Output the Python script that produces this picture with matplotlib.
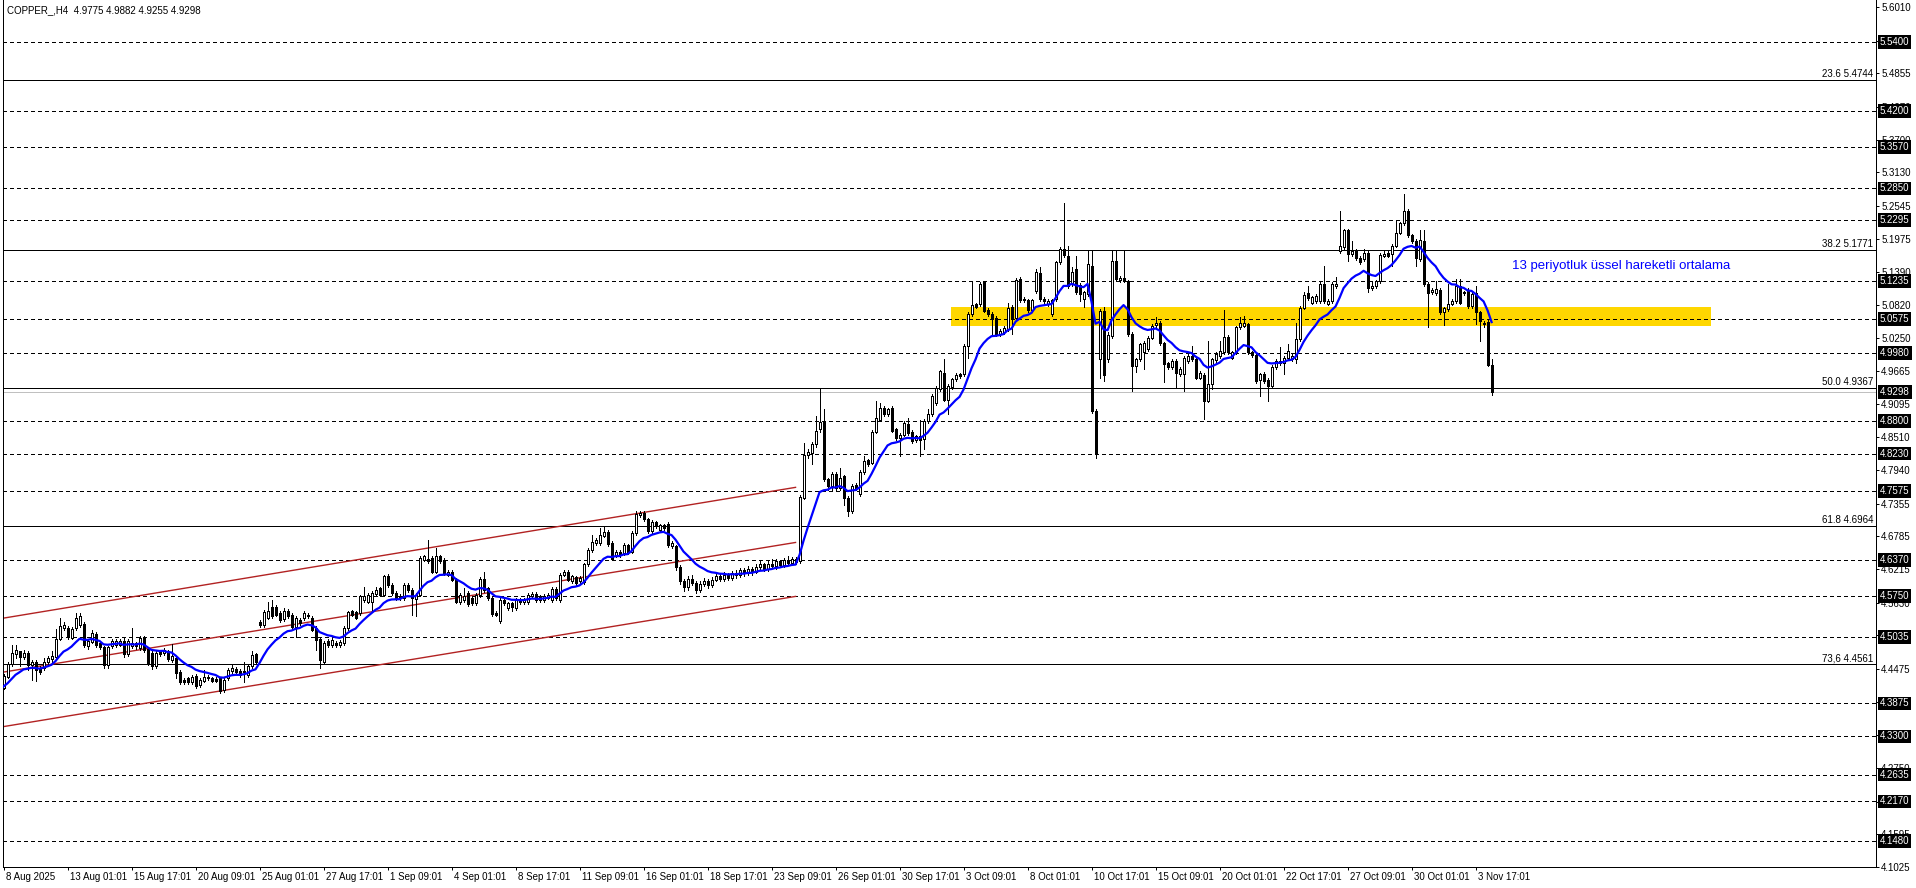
import numpy as np
import pandas as pd
import matplotlib
matplotlib.use("Agg")
import matplotlib.pyplot as plt
from matplotlib.transforms import blended_transform_factory, ScaledTranslation

plt.rcParams["font.family"] = ["Liberation Sans", "DejaVu Sans"]
plt.rcParams["lines.scale_dashes"] = False

# --------------------------------------------------------------------------------------
# Data (COPPER_, H4 candles)
# --------------------------------------------------------------------------------------
title = "COPPER_,H4  4.9775 4.9882 4.9255 4.9298"

opens = [
    4.415, 4.434, 4.456, 4.473, 4.478, 4.469, 4.475, 4.455, 4.460, 4.450,
    4.450, 4.459, 4.465, 4.469, 4.500, 4.519, 4.519, 4.502, 4.519, 4.525,
    4.526, 4.487, 4.495, 4.509, 4.493, 4.485, 4.455, 4.487, 4.489, 4.490,
    4.496, 4.473, 4.487, 4.492, 4.484, 4.502, 4.483, 4.475, 4.452, 4.478,
    4.475, 4.478, 4.463, 4.467, 4.443, 4.429, 4.431, 4.425, 4.436, 4.420,
    4.427, 4.433, 4.431, 4.430, 4.432, 4.411, 4.431, 4.444, 4.448, 4.444,
    4.442, 4.437, 4.452, 4.473, 4.530, 4.524, 4.537, 4.556, 4.556, 4.545,
    4.535, 4.549, 4.542, 4.521, 4.533, 4.536, 4.542, 4.536, 4.519, 4.500,
    4.460, 4.496, 4.489, 4.493, 4.489, 4.492, 4.519, 4.548, 4.546, 4.545,
    4.568, 4.565, 4.565, 4.578, 4.588, 4.577, 4.610, 4.594, 4.580, 4.575,
    4.571, 4.594, 4.585, 4.570, 4.577, 4.638, 4.640, 4.641, 4.617, 4.644,
    4.638, 4.612, 4.617, 4.603, 4.565, 4.568, 4.580, 4.571, 4.562, 4.576,
    4.604, 4.588, 4.571, 4.545, 4.531, 4.568, 4.553, 4.562, 4.553, 4.568,
    4.564, 4.564, 4.575, 4.578, 4.574, 4.568, 4.572, 4.568, 4.587, 4.568,
    4.612, 4.617, 4.601, 4.607, 4.600, 4.599, 4.630, 4.655, 4.667, 4.667,
    4.680, 4.686, 4.667, 4.645, 4.652, 4.649, 4.663, 4.652, 4.684, 4.716,
    4.719, 4.708, 4.688, 4.703, 4.690, 4.698, 4.700, 4.661, 4.661, 4.625,
    4.600, 4.590, 4.605, 4.598, 4.585, 4.596, 4.601, 4.593, 4.603, 4.610,
    4.604, 4.612, 4.606, 4.615, 4.611, 4.620, 4.614, 4.622, 4.617, 4.626,
    4.630, 4.622, 4.631, 4.627, 4.635, 4.629, 4.637, 4.632, 4.639, 4.636,
    4.746, 4.820, 4.824, 4.839, 4.865, 4.879, 4.778, 4.766, 4.787, 4.763,
    4.783, 4.746, 4.722, 4.768, 4.752, 4.791, 4.811, 4.807, 4.861, 4.882,
    4.903, 4.891, 4.902, 4.865, 4.850, 4.856, 4.874, 4.861, 4.846, 4.853,
    4.849, 4.880, 4.892, 4.911, 4.935, 4.964, 4.917, 4.939, 4.952, 4.961,
    4.961, 5.011, 5.066, 5.083, 5.083, 5.121, 5.073, 5.066, 5.059, 5.031,
    5.035, 5.040, 5.079, 5.059, 5.127, 5.090, 5.090, 5.073, 5.106, 5.137,
    5.092, 5.083, 5.066, 5.092, 5.156, 5.179, 5.168, 5.118, 5.144, 5.117,
    5.092, 5.101, 5.150, 4.897, 4.987, 5.072, 4.988, 5.028, 5.159, 5.125,
    5.129, 5.123, 5.031, 4.976, 4.987, 4.999, 5.005, 5.025, 5.047, 5.051,
    5.015, 4.980, 4.973, 4.984, 4.961, 4.961, 4.984, 4.993, 4.987, 4.955,
    4.960, 4.915, 4.944, 4.986, 4.993, 4.999, 5.026, 4.990, 5.000, 5.043,
    5.046, 5.048, 4.999, 4.995, 4.951, 4.962, 4.951, 4.941, 4.974, 4.981,
    4.981, 4.990, 4.987, 4.987, 5.022, 5.077, 5.102, 5.086, 5.089, 5.089,
    5.118, 5.084, 5.089, 5.115, 5.176, 5.183, 5.212, 5.171, 5.176, 5.164,
    5.162, 5.173, 5.111, 5.115, 5.123, 5.168, 5.172, 5.171, 5.185, 5.208,
    5.224, 5.246, 5.203, 5.193, 5.162, 5.194, 5.118, 5.104, 5.102, 5.108,
    5.069, 5.074, 5.084, 5.088, 5.115, 5.102, 5.108, 5.080, 5.102, 5.069,
    5.048, 5.053, 4.9775,
]

highs = [
    4.438, 4.460, 4.489, 4.489, 4.479, 4.480, 4.478, 4.463, 4.463, 4.452,
    4.466, 4.470, 4.478, 4.517, 4.536, 4.530, 4.522, 4.520, 4.545, 4.545,
    4.530, 4.500, 4.515, 4.512, 4.496, 4.488, 4.487, 4.500, 4.499, 4.500,
    4.501, 4.499, 4.519, 4.495, 4.505, 4.505, 4.486, 4.478, 4.478, 4.481,
    4.484, 4.481, 4.491, 4.470, 4.446, 4.431, 4.434, 4.437, 4.439, 4.432,
    4.446, 4.437, 4.434, 4.433, 4.434, 4.431, 4.450, 4.454, 4.451, 4.447,
    4.460, 4.455, 4.478, 4.476, 4.533, 4.551, 4.565, 4.568, 4.559, 4.548,
    4.553, 4.552, 4.545, 4.539, 4.536, 4.548, 4.545, 4.539, 4.522, 4.503,
    4.496, 4.499, 4.501, 4.496, 4.498, 4.522, 4.549, 4.551, 4.549, 4.577,
    4.591, 4.580, 4.583, 4.591, 4.591, 4.612, 4.613, 4.597, 4.583, 4.578,
    4.597, 4.597, 4.588, 4.580, 4.644, 4.647, 4.673, 4.644, 4.659, 4.647,
    4.641, 4.620, 4.620, 4.606, 4.580, 4.588, 4.583, 4.574, 4.580, 4.607,
    4.617, 4.591, 4.574, 4.548, 4.571, 4.571, 4.565, 4.565, 4.571, 4.571,
    4.571, 4.580, 4.582, 4.581, 4.577, 4.578, 4.580, 4.590, 4.590, 4.615,
    4.620, 4.620, 4.612, 4.610, 4.609, 4.633, 4.658, 4.681, 4.675, 4.693,
    4.696, 4.689, 4.670, 4.655, 4.655, 4.667, 4.666, 4.688, 4.723, 4.722,
    4.722, 4.711, 4.707, 4.706, 4.701, 4.701, 4.703, 4.670, 4.664, 4.628,
    4.605, 4.610, 4.612, 4.601, 4.600, 4.606, 4.604, 4.607, 4.614, 4.613,
    4.616, 4.615, 4.619, 4.620, 4.624, 4.623, 4.627, 4.626, 4.630, 4.636,
    4.633, 4.636, 4.640, 4.640, 4.638, 4.641, 4.644, 4.643, 4.642, 4.750,
    4.842, 4.830, 4.843, 4.888, 4.938, 4.900, 4.781, 4.791, 4.790, 4.798,
    4.786, 4.749, 4.769, 4.771, 4.794, 4.818, 4.814, 4.864, 4.914, 4.911,
    4.906, 4.903, 4.905, 4.868, 4.859, 4.880, 4.885, 4.864, 4.856, 4.882,
    4.883, 4.900, 4.926, 4.940, 4.969, 4.987, 4.944, 4.955, 4.963, 4.964,
    5.014, 5.069, 5.121, 5.086, 5.122, 5.124, 5.076, 5.069, 5.062, 5.040,
    5.045, 5.086, 5.082, 5.128, 5.130, 5.095, 5.093, 5.093, 5.144, 5.148,
    5.095, 5.092, 5.093, 5.159, 5.182, 5.259, 5.185, 5.148, 5.168, 5.120,
    5.107, 5.176, 5.175, 4.900, 5.075, 5.078, 5.034, 5.176, 5.178, 5.133,
    5.176, 5.126, 5.034, 4.990, 5.016, 5.019, 5.028, 5.048, 5.060, 5.054,
    5.018, 4.983, 4.987, 4.987, 4.973, 4.993, 4.996, 5.011, 4.990, 4.967,
    4.963, 5.019, 4.990, 5.000, 5.019, 5.073, 5.029, 5.002, 5.046, 5.060,
    5.063, 5.051, 5.002, 4.998, 4.964, 4.965, 4.954, 4.977, 4.987, 5.008,
    4.993, 5.013, 4.996, 5.051, 5.080, 5.105, 5.115, 5.098, 5.101, 5.124,
    5.150, 5.092, 5.121, 5.130, 5.246, 5.215, 5.215, 5.194, 5.179, 5.167,
    5.179, 5.176, 5.124, 5.126, 5.172, 5.176, 5.175, 5.188, 5.230, 5.227,
    5.276, 5.249, 5.206, 5.196, 5.212, 5.213, 5.121, 5.111, 5.124, 5.111,
    5.079, 5.118, 5.092, 5.127, 5.127, 5.107, 5.111, 5.104, 5.115, 5.072,
    5.054, 5.056, 4.9882,
]

lows = [
    4.413, 4.431, 4.453, 4.466, 4.452, 4.465, 4.446, 4.428, 4.427, 4.438,
    4.446, 4.456, 4.460, 4.466, 4.498, 4.515, 4.500, 4.499, 4.516, 4.521,
    4.486, 4.483, 4.492, 4.486, 4.482, 4.449, 4.449, 4.484, 4.486, 4.487,
    4.469, 4.470, 4.484, 4.483, 4.481, 4.477, 4.454, 4.448, 4.449, 4.470,
    4.472, 4.462, 4.460, 4.431, 4.422, 4.421, 4.421, 4.422, 4.414, 4.417,
    4.424, 4.428, 4.425, 4.425, 4.405, 4.408, 4.428, 4.441, 4.439, 4.434,
    4.425, 4.434, 4.449, 4.457, 4.521, 4.521, 4.534, 4.536, 4.539, 4.530,
    4.532, 4.536, 4.518, 4.504, 4.524, 4.533, 4.537, 4.513, 4.481, 4.449,
    4.457, 4.486, 4.486, 4.486, 4.486, 4.489, 4.516, 4.539, 4.534, 4.542,
    4.565, 4.562, 4.550, 4.575, 4.574, 4.574, 4.591, 4.577, 4.567, 4.568,
    4.568, 4.582, 4.542, 4.539, 4.574, 4.635, 4.633, 4.614, 4.614, 4.632,
    4.611, 4.609, 4.600, 4.562, 4.560, 4.565, 4.557, 4.559, 4.559, 4.573,
    4.582, 4.568, 4.540, 4.539, 4.528, 4.559, 4.550, 4.549, 4.550, 4.561,
    4.561, 4.561, 4.572, 4.565, 4.565, 4.565, 4.569, 4.565, 4.568, 4.565,
    4.609, 4.600, 4.598, 4.594, 4.597, 4.596, 4.627, 4.652, 4.664, 4.664,
    4.677, 4.662, 4.637, 4.642, 4.643, 4.646, 4.648, 4.649, 4.681, 4.713,
    4.705, 4.685, 4.685, 4.693, 4.687, 4.690, 4.660, 4.658, 4.620, 4.595,
    4.584, 4.586, 4.594, 4.580, 4.582, 4.592, 4.589, 4.590, 4.600, 4.600,
    4.601, 4.603, 4.603, 4.606, 4.608, 4.610, 4.611, 4.612, 4.614, 4.620,
    4.618, 4.619, 4.623, 4.622, 4.625, 4.626, 4.628, 4.628, 4.630, 4.632,
    4.743, 4.815, 4.804, 4.835, 4.860, 4.775, 4.760, 4.760, 4.758, 4.760,
    4.734, 4.714, 4.719, 4.760, 4.749, 4.788, 4.802, 4.804, 4.858, 4.879,
    4.888, 4.888, 4.860, 4.847, 4.818, 4.853, 4.856, 4.842, 4.843, 4.818,
    4.830, 4.877, 4.889, 4.908, 4.932, 4.914, 4.891, 4.936, 4.949, 4.955,
    4.958, 4.990, 5.063, 5.076, 5.080, 5.069, 5.063, 5.028, 5.028, 5.028,
    5.032, 5.037, 5.031, 5.056, 5.087, 5.087, 5.070, 5.070, 5.103, 5.089,
    5.085, 5.080, 5.063, 5.089, 5.153, 5.166, 5.112, 5.115, 5.101, 5.089,
    5.079, 5.098, 4.894, 4.815, 4.955, 4.950, 4.982, 5.025, 5.124, 5.121,
    5.121, 5.028, 4.932, 4.965, 4.984, 4.970, 5.002, 5.022, 5.044, 5.012,
    4.947, 4.970, 4.970, 4.938, 4.958, 4.932, 4.981, 4.984, 4.952, 4.952,
    4.883, 4.912, 4.935, 4.983, 4.990, 4.996, 4.996, 4.987, 4.997, 5.040,
    5.043, 4.996, 4.992, 4.946, 4.923, 4.946, 4.915, 4.938, 4.971, 4.978,
    4.961, 4.987, 4.984, 4.981, 5.019, 5.074, 5.091, 5.083, 5.086, 5.086,
    5.086, 5.081, 5.086, 5.112, 5.173, 5.180, 5.159, 5.168, 5.161, 5.153,
    5.159, 5.104, 5.108, 5.112, 5.120, 5.165, 5.165, 5.150, 5.182, 5.205,
    5.221, 5.200, 5.190, 5.150, 5.159, 5.115, 5.043, 5.101, 5.099, 5.066,
    5.047, 5.071, 5.081, 5.085, 5.083, 5.099, 5.077, 5.077, 5.048, 5.019,
    5.043, 4.975, 4.9255,
]

closes = [
    4.435, 4.456, 4.475, 4.481, 4.469, 4.476, 4.455, 4.460, 4.446, 4.442,
    4.460, 4.466, 4.471, 4.500, 4.523, 4.524, 4.504, 4.517, 4.536, 4.539,
    4.489, 4.496, 4.510, 4.489, 4.485, 4.455, 4.485, 4.496, 4.496, 4.497,
    4.473, 4.496, 4.492, 4.487, 4.502, 4.481, 4.457, 4.452, 4.475, 4.473,
    4.481, 4.465, 4.471, 4.440, 4.425, 4.425, 4.425, 4.434, 4.418, 4.429,
    4.433, 4.431, 4.427, 4.427, 4.409, 4.428, 4.446, 4.450, 4.442, 4.437,
    4.444, 4.452, 4.472, 4.460, 4.524, 4.546, 4.549, 4.539, 4.542, 4.533,
    4.549, 4.539, 4.521, 4.536, 4.527, 4.545, 4.539, 4.516, 4.498, 4.463,
    4.493, 4.489, 4.498, 4.489, 4.495, 4.519, 4.546, 4.542, 4.537, 4.574,
    4.574, 4.577, 4.580, 4.585, 4.577, 4.609, 4.594, 4.580, 4.570, 4.571,
    4.594, 4.585, 4.571, 4.577, 4.641, 4.644, 4.636, 4.617, 4.644, 4.635,
    4.614, 4.617, 4.603, 4.565, 4.577, 4.574, 4.560, 4.562, 4.577, 4.604,
    4.585, 4.571, 4.543, 4.542, 4.568, 4.562, 4.562, 4.555, 4.568, 4.564,
    4.568, 4.577, 4.578, 4.568, 4.568, 4.575, 4.577, 4.587, 4.571, 4.612,
    4.617, 4.603, 4.609, 4.597, 4.606, 4.630, 4.655, 4.669, 4.672, 4.681,
    4.686, 4.665, 4.640, 4.652, 4.646, 4.664, 4.651, 4.685, 4.717, 4.719,
    4.708, 4.688, 4.704, 4.696, 4.698, 4.693, 4.663, 4.667, 4.625, 4.600,
    4.590, 4.605, 4.598, 4.585, 4.596, 4.601, 4.593, 4.603, 4.610, 4.604,
    4.612, 4.606, 4.615, 4.611, 4.620, 4.614, 4.622, 4.617, 4.626, 4.630,
    4.622, 4.631, 4.627, 4.635, 4.629, 4.637, 4.632, 4.639, 4.634, 4.747,
    4.820, 4.826, 4.839, 4.863, 4.878, 4.778, 4.766, 4.788, 4.763, 4.781,
    4.746, 4.722, 4.766, 4.763, 4.791, 4.810, 4.805, 4.861, 4.884, 4.903,
    4.891, 4.900, 4.863, 4.850, 4.856, 4.877, 4.859, 4.845, 4.853, 4.846,
    4.880, 4.892, 4.923, 4.937, 4.966, 4.917, 4.941, 4.952, 4.960, 4.958,
    5.011, 5.066, 5.082, 5.079, 5.119, 5.072, 5.066, 5.057, 5.031, 5.037,
    5.042, 5.077, 5.059, 5.125, 5.090, 5.092, 5.073, 5.090, 5.139, 5.092,
    5.088, 5.089, 5.090, 5.156, 5.179, 5.169, 5.115, 5.140, 5.104, 5.101,
    5.104, 5.153, 4.897, 4.823, 5.072, 4.960, 5.030, 5.159, 5.127, 5.129,
    5.124, 5.031, 4.976, 4.987, 5.013, 5.016, 5.025, 5.045, 5.051, 5.015,
    4.979, 4.973, 4.984, 4.964, 4.970, 4.990, 4.993, 4.987, 4.955, 4.964,
    4.915, 4.944, 4.987, 4.997, 5.002, 5.026, 4.999, 4.999, 5.043, 5.050,
    5.050, 4.999, 4.995, 4.949, 4.961, 4.949, 4.941, 4.974, 4.984, 4.985,
    4.990, 5.002, 4.993, 5.022, 5.077, 5.100, 5.094, 5.095, 5.098, 5.118,
    5.089, 5.089, 5.118, 5.118, 5.185, 5.212, 5.171, 5.176, 5.164, 5.156,
    5.172, 5.111, 5.115, 5.123, 5.169, 5.171, 5.168, 5.185, 5.208, 5.224,
    5.246, 5.203, 5.193, 5.164, 5.195, 5.118, 5.102, 5.108, 5.110, 5.069,
    5.076, 5.084, 5.089, 5.115, 5.086, 5.104, 5.080, 5.101, 5.069, 5.054,
    5.051, 4.978, 4.9298,
]

ema_period = 13
ema_start = 4.414          # EMA value carried in from before the first visible bar

# price scale labels printed on the right
price_ticks = [5.6010, 5.5425, 5.4855, 5.4270, 5.3700, 5.3130, 5.2545, 5.1975, 5.1390,
               5.0820, 5.0250, 4.9665, 4.9095, 4.8510, 4.7940, 4.7355, 4.6785, 4.6215,
               4.5630, 4.5060, 4.4475, 4.3905, 4.3320, 4.2750, 4.2165, 4.1595, 4.1025]

# dashed horizontal support / resistance levels (labelled in black boxes)
levels = [5.5400, 5.4200, 5.3570, 5.2850, 5.2295, 5.1235, 5.0575, 4.9980, 4.8800,
          4.8230, 4.7575, 4.6370, 4.5750, 4.5035, 4.3875, 4.3300, 4.2635, 4.2170, 4.1480]

fib_ratios = ["23.6", "38.2", "50.0", "61.8", "73,6"]
fib_prices = [5.4744, 5.1771, 4.9367, 4.6964, 4.4561]

bid = 4.9298

zone_bars = [236.9, 426.9]
zone_prices = [5.0445, 5.0790]

channel_bars = [-1, 198]
channel_upper = [4.535, 4.764]
channel_middle = [4.441, 4.668]
channel_lower = [4.346, 4.574]

ema_note = "13 periyotluk üssel hareketli ortalama"
ema_note_pos = [377, 5.150]

time_labels = ["8 Aug 2025", "13 Aug 01:01", "15 Aug 17:01", "20 Aug 09:01", "25 Aug 01:01",
               "27 Aug 17:01", "1 Sep 09:01", "4 Sep 01:01", "8 Sep 17:01", "11 Sep 09:01",
               "16 Sep 01:01", "18 Sep 17:01", "23 Sep 09:01", "26 Sep 01:01", "30 Sep 17:01",
               "3 Oct 09:01", "8 Oct 01:01", "10 Oct 17:01", "15 Oct 09:01", "20 Oct 01:01",
               "22 Oct 17:01", "27 Oct 09:01", "30 Oct 01:01", "3 Nov 17:01"]
bars_per_label = 16

# --------------------------------------------------------------------------------------
# Figure
# --------------------------------------------------------------------------------------
W, H = 1916.0, 888.0
PX = 0.72  # one pixel in points at dpi=100

o = np.array(opens)
h = np.array(highs)
l = np.array(lows)
c = np.array(closes)
x = np.arange(len(c))

ema = pd.Series([ema_start] + closes).ewm(span=ema_period, adjust=False).mean().to_numpy()[1:]

fig = plt.figure(figsize=(W / 100, H / 100), dpi=100)
ax = fig.add_axes([2.5 / W, 21 / H, (1876 - 2.5) / W, 867 / H])
ax.set_xlim(-0.25, 468.1)
ax.set_ylim(4.1030, 5.6132)

# supply/demand zone
ax.fill_between(zone_bars, zone_prices[0], zone_prices[1], color="#FFD700", lw=0, zorder=1)

# horizontal levels
for lv in levels:
    ax.axhline(lv, color="black", lw=PX, ls=(0, (4 * PX, 3 * PX)), zorder=2, antialiased=False)
for fp in fib_prices:
    ax.axhline(fp, color="black", lw=PX, zorder=2, antialiased=False)
ax.axhline(bid, color="#C0C0C0", lw=PX, zorder=2, antialiased=False)

# regression channel
for ys in (channel_upper, channel_middle, channel_lower):
    ax.plot(channel_bars, ys, color="#B22222", lw=1.0, zorder=2)

# candles
ax.vlines(x, l, h, color="black", lw=PX, zorder=3, antialiased=False)
up = c >= o
body_lo = np.minimum(o, c)
body_h = np.maximum(np.abs(c - o), 0.0008)
ax.bar(x[up], body_h[up], bottom=body_lo[up], width=0.5, color="white",
       edgecolor="black", linewidth=PX, zorder=4, antialiased=False)
ax.bar(x[~up], body_h[~up], bottom=body_lo[~up], width=0.5, color="black",
       edgecolor="black", linewidth=PX, zorder=4, antialiased=False)

# moving average
ax.plot(x, ema, color="#0000FF", lw=1.6, zorder=5)
ax.text(ema_note_pos[0], ema_note_pos[1], ema_note, color="#0000FF", fontsize=9.5,
        ha="left", va="center", zorder=6)

# frame
for side in ("left", "bottom", "right"):
    ax.spines[side].set_linewidth(PX)
    ax.spines[side].set_color("black")
ax.spines["top"].set_visible(False)

# right price scale; labels sitting fully under a boxed level label are left blank
ax.yaxis.tick_right()
ax.set_yticks(price_ticks)
tick_text = []
for p in price_ticks:
    covered = min(abs(p - lv) for lv in levels + [bid]) < 0.005
    tick_text.append("" if covered else f"{p:.4f}")
ax.set_yticklabels(tick_text)
ax.tick_params(axis="y", which="both", length=3 * PX, width=PX, pad=1.5, labelsize=7,
               colors="black")

# time scale
ax.set_xticks(np.arange(len(time_labels)) * bars_per_label)
ax.set_xticklabels(time_labels, ha="left")
ax.tick_params(axis="x", length=3 * PX, width=PX, pad=1.5, labelsize=7)
shift = ScaledTranslation(2 / 100, 0, fig.dpi_scale_trans)
for lbl in ax.get_xticklabels():
    lbl.set_transform(lbl.get_transform() + shift)

# boxed price labels
yt = blended_transform_factory(ax.transAxes, ax.transData)
box_off = ScaledTranslation(4 / 100, 0, fig.dpi_scale_trans)
for lv in levels + [bid]:
    ax.text(1.0, lv, f"{lv:.4f}", transform=yt + box_off, ha="left", va="center",
            color="white", fontsize=7, clip_on=False, zorder=10,
            bbox=dict(boxstyle="square,pad=0.18", fc="black", ec="black", lw=0))

# fibonacci captions
fib_off = ScaledTranslation(-3 / 100, 1 / 100, fig.dpi_scale_trans)
for name, fp in zip(fib_ratios, fib_prices):
    ax.text(1.0, fp, f"{name} {fp:.4f}", transform=yt + fib_off, ha="right", va="bottom",
            color="black", fontsize=7, zorder=6)

fig.text(7 / W, 1 - 10 / H, title, fontsize=7, ha="left", va="center", color="black")

fig.savefig("out.png", dpi=100, facecolor="white")
